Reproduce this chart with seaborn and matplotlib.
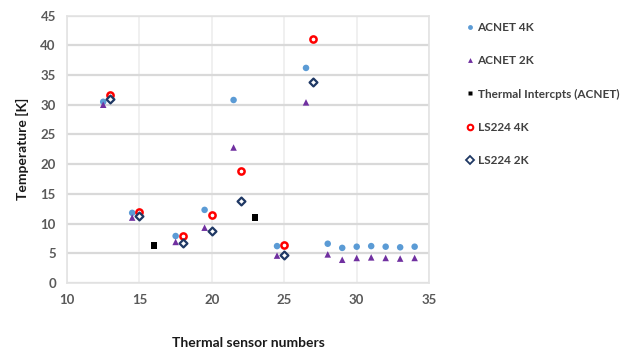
import matplotlib
matplotlib.use("Agg")
import matplotlib.pyplot as plt
import seaborn as sns
import pandas as pd
from matplotlib.lines import Line2D

sns.set_theme(style="white")
plt.rcParams['font.family'] = ['Lato', 'DejaVu Sans']

acnet_x = [12.5, 14.5, 17.5, 19.5, 21.5, 24.5, 26.5, 28, 29, 30, 31, 32, 33, 34]
acnet4k_y = [30.5, 11.8, 7.9, 12.3, 30.8, 6.2, 36.2, 6.6, 5.9, 6.1, 6.2, 6.1, 6.0, 6.1]
acnet2k_y = [30.0, 11.0, 6.9, 9.3, 22.8, 4.6, 30.4, 4.8, 3.9, 4.2, 4.3, 4.2, 4.1, 4.2]
intercept_x = [16, 23]
intercept_y = [6.3, 11.0]
ls_x = [13, 15, 18, 20, 22, 25, 27]
ls4k_y = [31.7, 12.0, 7.9, 11.5, 18.8, 6.4, 41.1]
ls2k_y = [30.9, 11.2, 6.8, 8.7, 13.8, 4.7, 33.8]

fig = plt.figure(figsize=(6.32, 3.48), dpi=100)
ax = fig.add_axes([0.106, 0.187, 0.573, 0.768])

sns.scatterplot(x=acnet_x, y=acnet4k_y, ax=ax, marker='o', s=22, color='#5B9BD5', edgecolor='none', zorder=3)
sns.scatterplot(x=acnet_x, y=acnet2k_y, ax=ax, marker='^', s=22, color='#7030A0', edgecolor='none', zorder=3)
sns.scatterplot(x=intercept_x, y=intercept_y, ax=ax, marker='s', s=20, color='black', edgecolor='none', zorder=3)
sns.scatterplot(x=ls_x, y=ls4k_y, ax=ax, marker='o', s=20, facecolor='white', edgecolor='#FF0000', linewidth=1.8, zorder=4)
sns.scatterplot(x=ls_x, y=ls2k_y, ax=ax, marker='D', s=16, facecolor='white', edgecolor='#1F3864', linewidth=1.6, zorder=4)

ax.set_xlim(10, 35)
ax.set_ylim(0, 45)
ax.set_xticks(range(10, 36, 5))
ax.set_yticks(range(0, 46, 5))
ax.grid(axis='y', color='#D9D9D9', linewidth=1.6)
ax.grid(axis='x', color='#EEEEEE', linewidth=1.2)
ax.set_axisbelow(True)
for sp in ax.spines.values():
    sp.set_color('#E3E3E3')
    sp.set_linewidth(1.2)
ax.tick_params(axis='both', labelsize=9.5, labelcolor='#595959', length=0, pad=8)
for lab in ax.get_xticklabels() + ax.get_yticklabels():
    lab.set_fontweight('bold')
ax.set_xlabel('Thermal sensor numbers', fontsize=10, fontweight='bold', color='#1a1a1a', labelpad=22)
ax.set_ylabel('Temperature [K]', fontsize=10, fontweight='bold', color='#1a1a1a', labelpad=8)

handles = [
    Line2D([], [], ls='none', marker='o', ms=3.5, mfc='#5B9BD5', mec='none'),
    Line2D([], [], ls='none', marker='^', ms=3.5, mfc='#7030A0', mec='none'),
    Line2D([], [], ls='none', marker='s', ms=3, mfc='black', mec='none'),
    Line2D([], [], ls='none', marker='o', ms=4, mfc='white', mec='#FF0000', mew=1.5),
    Line2D([], [], ls='none', marker='D', ms=3.8, mfc='white', mec='#1F3864', mew=1.3),
]
labels = ['ACNET 4K', 'ACNET 2K', 'Thermal Intercpts (ACNET)', 'LS224 4K', 'LS224 2K']
leg = fig.legend(handles, labels, loc='upper left', bbox_to_anchor=(0.722, 0.967), frameon=False,
                 handlelength=0.6, handletextpad=0.3, labelspacing=1.88,
                 prop={'size': 8.5, 'weight': 'bold'})
for t in leg.get_texts():
    t.set_color('#404040')

fig.savefig('out.png', dpi=100)
